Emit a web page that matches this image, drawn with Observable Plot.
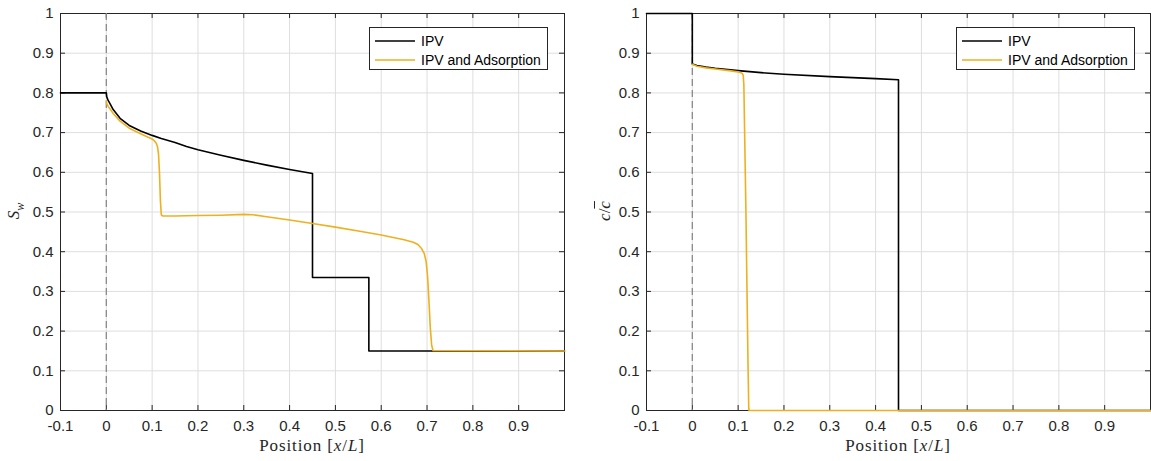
<!DOCTYPE html>
<html><head><meta charset="utf-8">
<script src="https://cdn.jsdelivr.net/npm/d3@7"></script>
<script src="https://cdn.jsdelivr.net/npm/@observablehq/plot@0.6"></script>
<style>
body{margin:0;background:#fff;}
#wrap{position:relative;width:1151px;height:461px;font-family:"Liberation Sans",Arial,sans-serif;color:#262626;overflow:hidden;}
.panel{position:absolute;top:0;}
.xlabel{position:absolute;top:436px;font-family:"Liberation Serif",serif;font-size:17px;color:#262626;white-space:nowrap;transform:translateX(-50%);letter-spacing:0.9px;line-height:20px;}
.ylabel{position:absolute;font-family:"Liberation Serif",serif;font-size:17px;color:#262626;white-space:nowrap;transform:translate(-50%,-50%) rotate(-90deg);line-height:20px;}
.legend{position:absolute;top:27px;width:177px;height:41px;border:1px solid #262626;background:#fff;font-size:14px;color:#000;}
.legend .row{position:absolute;left:5px;height:18px;display:flex;align-items:center;}
.legend .row span{margin-left:6px;white-space:nowrap;}
</style></head>
<body>
<div id="wrap"></div>
<script>
// ---- data ----
const xTicks = [-0.1, 0, 0.1, 0.2, 0.3, 0.4, 0.5, 0.6, 0.7, 0.8, 0.9];
const yTicks = [0, 0.1, 0.2, 0.3, 0.4, 0.5, 0.6, 0.7, 0.8, 0.9, 1];
const seriesNames = ["IPV", "IPV and Adsorption"];
const seriesColors = ["#000000", "#EDB120"];

// left panel: water saturation S_w
const swIpvX = [-0.1, 0, 0.001, 0.004, 0.008, 0.015, 0.03, 0.05, 0.075, 0.1, 0.12, 0.15, 0.175, 0.2, 0.25, 0.3, 0.35, 0.4, 0.45, 0.45, 0.573, 0.573, 1.0];
const swIpvY = [0.8, 0.8, 0.79, 0.781, 0.773, 0.758, 0.736, 0.718, 0.704, 0.693, 0.685, 0.675, 0.665, 0.657, 0.643, 0.630, 0.618, 0.607, 0.597, 0.335, 0.335, 0.15, 0.15];
const swAdsX = [0, 0.001, 0.004, 0.008, 0.015, 0.03, 0.05, 0.075, 0.09, 0.1, 0.105, 0.109, 0.112, 0.114, 0.116, 0.118, 0.12, 0.123, 0.15, 0.2, 0.25, 0.3, 0.32, 0.35, 0.4, 0.45, 0.5, 0.55, 0.6, 0.65, 0.67, 0.68, 0.688, 0.694, 0.698, 0.701, 0.704, 0.707, 0.71, 0.713, 1.0];
const swAdsY = [0.78, 0.773, 0.766, 0.76, 0.748, 0.729, 0.711, 0.697, 0.689, 0.684, 0.679, 0.673, 0.663, 0.645, 0.6, 0.53, 0.493, 0.49, 0.49, 0.491, 0.492, 0.494, 0.493, 0.488, 0.48, 0.471, 0.462, 0.452, 0.442, 0.43, 0.424, 0.418, 0.408, 0.395, 0.375, 0.34, 0.28, 0.21, 0.165, 0.151, 0.15];

// right panel: normalized concentration c / c-bar
const cIpvX = [-0.1, 0, 0, 0.01, 0.03, 0.05, 0.1, 0.15, 0.2, 0.3, 0.4, 0.45, 0.45, 1.0];
const cIpvY = [1, 1, 0.873, 0.869, 0.865, 0.862, 0.856, 0.851, 0.847, 0.841, 0.836, 0.833, 0, 0];
const cAdsX = [0, 0.01, 0.03, 0.05, 0.08, 0.1, 0.106, 0.109, 0.111, 0.1125, 0.117, 0.1215, 0.1232, 0.124, 1.0];
const cAdsY = [0.872, 0.867, 0.863, 0.86, 0.856, 0.853, 0.851, 0.849, 0.845, 0.82, 0.5, 0.12, 0.005, 0, 0];

const toRows = (xs, ys) => xs.map((x, i) => ({x, y: ys[i]}));
const fmt = d => String(+(+d).toFixed(1));

function panel(width, ml, mr, ipv, ads) {
  const mt = 13, mb = 51, H = 461;
  const innerW = width - ml - mr, innerH = H - mt - mb;
  const tickStroke = "#262626";
  return Plot.plot({
    width, height: H, marginLeft: ml, marginRight: mr, marginTop: mt, marginBottom: mb,
    x: {domain: [-0.1, 1.0]},
    y: {domain: [0, 1]},
    style: {fontFamily: "'Liberation Sans', Arial, sans-serif", fontSize: "15px", color: "#262626", background: "#fff", overflow: "visible"},
    marks: [
      Plot.gridX(xTicks, {stroke: "#dedede", strokeOpacity: 1, strokeWidth: 1}),
      Plot.gridY(yTicks, {stroke: "#dedede", strokeOpacity: 1, strokeWidth: 1}),
      Plot.frame({stroke: "#262626", strokeWidth: 1}),
      Plot.ruleX(xTicks, {stroke: tickStroke, insetTop: innerH - 5}),
      Plot.ruleX(xTicks, {stroke: tickStroke, insetBottom: innerH - 5}),
      Plot.ruleY(yTicks, {stroke: tickStroke, insetRight: innerW - 5}),
      Plot.ruleY(yTicks, {stroke: tickStroke, insetLeft: innerW - 5}),
      Plot.ruleX([0], {stroke: "#8a8a8a", strokeDasharray: "7,4", strokeWidth: 1.3}),
      Plot.line(ipv, {x: "x", y: "y", stroke: seriesColors[0], strokeWidth: 1.6}),
      Plot.line(ads, {x: "x", y: "y", stroke: seriesColors[1], strokeWidth: 1.6}),
      Plot.axisX(xTicks, {tickSize: 0, tickPadding: 10, tickFormat: fmt, label: null, fill: "#262626"}),
      Plot.axisY(yTicks, {tickSize: 0, tickPadding: 7, tickFormat: fmt, label: null, fill: "#262626"})
    ]
  });
}

const wrap = document.getElementById("wrap");

function addPanel(left, width, ml, mr, ipv, ads, yLabelHtml, yLabelX, legendLeft) {
  const p = panel(width, ml, mr, ipv, ads);
  p.classList.add("panel");
  p.style.left = left + "px";
  wrap.appendChild(p);
  const xl = document.createElement("div");
  xl.className = "xlabel";
  xl.style.left = (left + ml + (width - ml - mr) / 2) + "px";
  xl.innerHTML = "Position [<i>x</i>/<i>L</i>]";
  wrap.appendChild(xl);
  const yl = document.createElement("div");
  yl.className = "ylabel";
  yl.style.left = yLabelX + "px";
  yl.style.top = "211px";
  yl.innerHTML = yLabelHtml;
  wrap.appendChild(yl);
  const lg = document.createElement("div");
  lg.className = "legend";
  lg.style.left = legendLeft + "px";
  seriesNames.forEach((name, i) => {
    const row = document.createElement("div");
    row.className = "row";
    row.style.top = (4 + i * 18.6) + "px";
    row.innerHTML = `<svg width="40" height="4"><line x1="0" x2="40" y1="2" y2="2" stroke="${seriesColors[i]}" stroke-width="1.6"/></svg><span>${name}</span>`;
    lg.appendChild(row);
  });
  wrap.appendChild(lg);
}

addPanel(0, 575, 60, 11, toRows(swIpvX, swIpvY), toRows(swAdsX, swAdsY),
  "<i>S</i><sub style='font-size:12px'><i>w</i></sub>", 17, 369);
addPanel(575, 576, 71, 1, toRows(cIpvX, cIpvY), toRows(cAdsX, cAdsY),
  "<i>c</i>/<i style='text-decoration:overline'>c</i>", 605, 956);
</script>
</body></html>
